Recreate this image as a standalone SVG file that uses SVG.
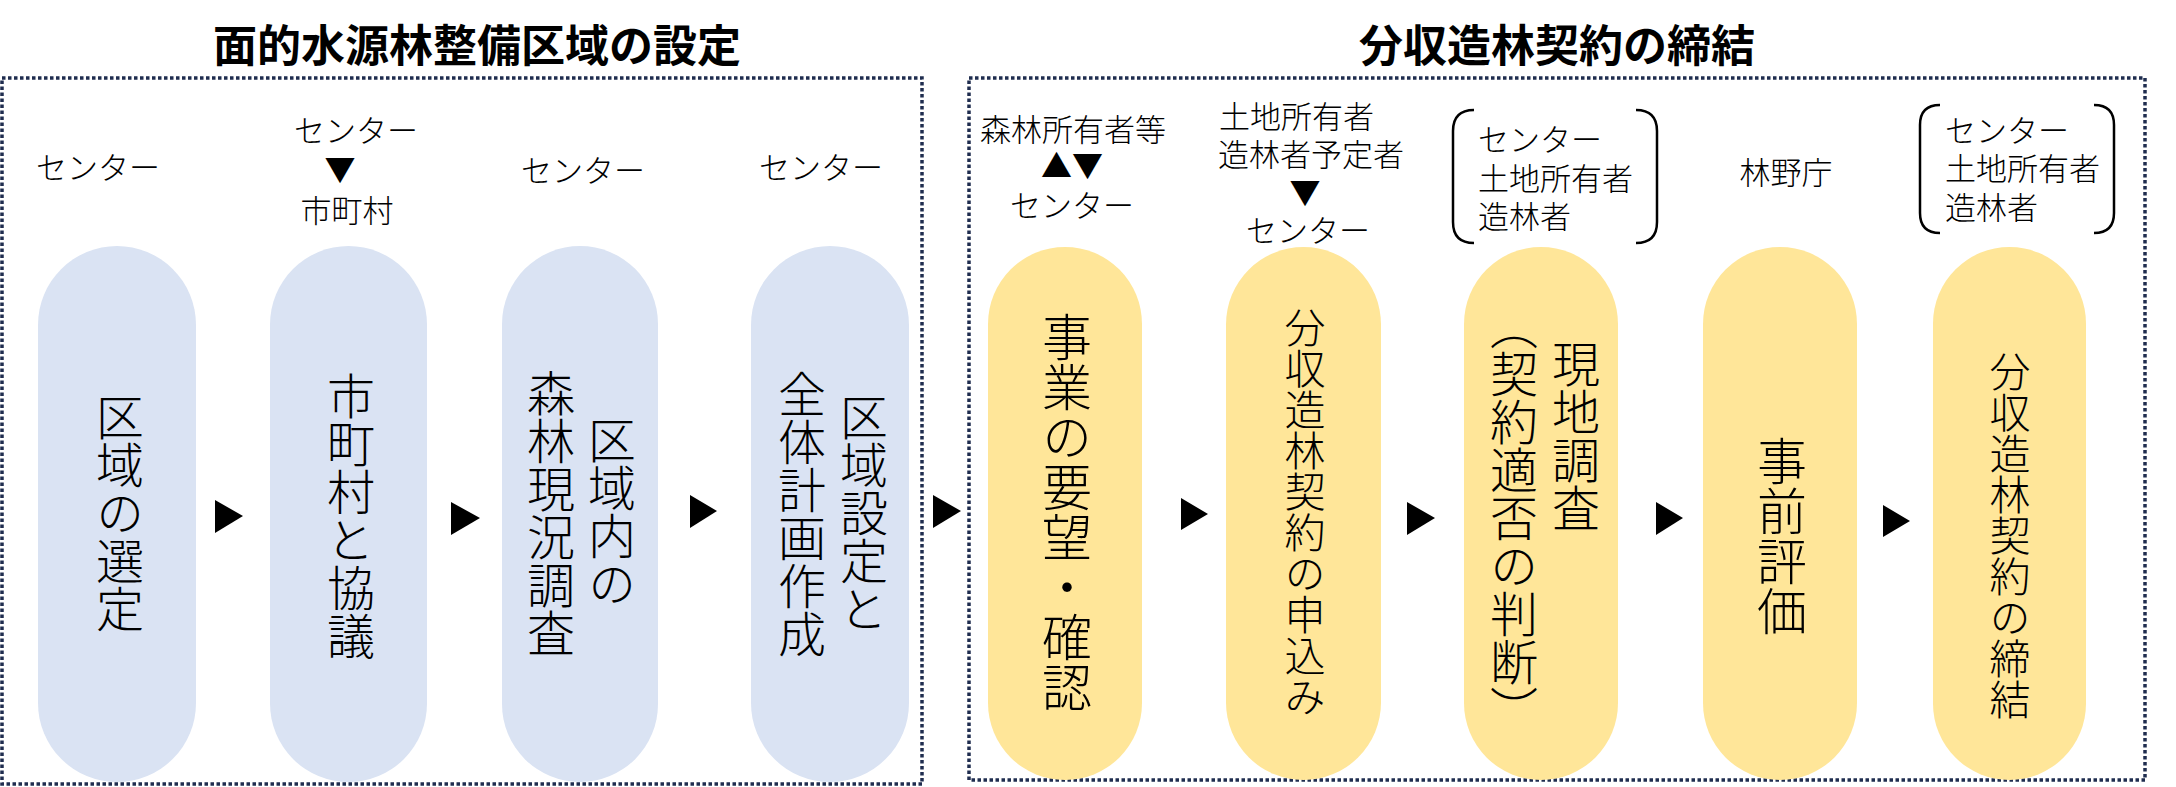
<svg xmlns="http://www.w3.org/2000/svg" width="2176" height="787" viewBox="0 0 2176 787">
<style>
.title{font-family:"Noto Sans CJK JP","Noto Sans CJK SC",sans-serif;font-weight:700;font-size:44px;fill:#000;text-anchor:middle;dominant-baseline:central}
.lbl{font-family:"Noto Sans CJK JP","Noto Sans CJK SC",sans-serif;font-weight:300;font-size:31px;fill:#000;dominant-baseline:central}
.mid{text-anchor:middle}
.vt{font-family:"Noto Sans CJK JP","Noto Sans CJK SC",sans-serif;font-weight:300;fill:#000;writing-mode:vertical-rl;text-anchor:middle}
.frame{fill:none;stroke:#1F2D4F;stroke-width:3.5;stroke-dasharray:3.5 2.5}
.blue{fill:#DAE3F3}
.yel{fill:#FFE699}
.brk{fill:none;stroke:#000;stroke-width:2.5}
.arr{fill:#000}
</style>
<rect width="2176" height="787" fill="#fff"/>
<g id="titles">
<text class="title" x="477" y="43">面的水源林整備区域の設定</text>
<text class="title" x="1557" y="43">分収造林契約の締結</text>
</g>
<g id="frames">
<rect class="frame" x="2" y="78" width="920" height="706"/>
<rect class="frame" x="969" y="78" width="1176" height="702"/>
</g>
<g id="node1">
<text class="lbl mid" x="98" y="165">センター</text>
<rect class="blue" x="38" y="246" width="158" height="536" rx="79"/>
<text class="vt" x="120" y="513" font-size="48">区域の選定</text>
</g>
<g id="node2">
<text class="lbl mid" x="356" y="128">センター</text>
<text class="lbl mid" x="340" y="167">▼</text>
<text class="lbl mid" x="347" y="208">市町村</text>
<rect class="blue" x="270" y="246" width="157" height="536" rx="78.5"/>
<text class="vt" x="351" y="516" font-size="48">市町村と協議</text>
</g>
<g id="node3">
<text class="lbl mid" x="583" y="168">センター</text>
<rect class="blue" x="502" y="246" width="156" height="536" rx="78"/>
<text class="vt" x="612" y="512" font-size="48">区域内の</text>
<text class="vt" x="551" y="513" font-size="48">森林現況調査</text>
</g>
<g id="node4">
<text class="lbl mid" x="821" y="165">センター</text>
<rect class="blue" x="751" y="246" width="158" height="536" rx="79"/>
<text class="vt" x="864" y="513" font-size="48">区域設定と</text>
<text class="vt" x="802" y="514" font-size="48">全体計画作成</text>
</g>
<g id="node5">
<text class="lbl mid" x="1073" y="127">森林所有者等</text>
<text class="lbl mid" x="1072" y="163">▲▼</text>
<text class="lbl mid" x="1072" y="203">センター</text>
<rect class="yel" x="988" y="247" width="154" height="533" rx="77"/>
<text class="vt" x="1067" y="512" font-size="50">事業の要望・確認</text>
</g>
<g id="node6">
<text class="lbl" x="1219" y="114">土地所有者</text>
<text class="lbl" x="1218" y="152">造林者予定者</text>
<text class="lbl mid" x="1305" y="190">▼</text>
<text class="lbl mid" x="1308" y="228">センター</text>
<rect class="yel" x="1226" y="247" width="155" height="533" rx="77.5"/>
<text class="vt" x="1305" y="512" font-size="41">分収造林契約の申込み</text>
</g>
<g id="node7">
<path class="brk" d="M1474,110 Q1453,110 1453,131 L1453,222 Q1453,243 1474,243"/>
<path class="brk" d="M1636,110 Q1657,110 1657,131 L1657,222 Q1657,243 1636,243"/>
<text class="lbl" x="1478" y="137">センター</text>
<text class="lbl" x="1478" y="176">土地所有者</text>
<text class="lbl" x="1478" y="214">造林者</text>
<rect class="yel" x="1464" y="247" width="154" height="533" rx="77"/>
<text class="vt" x="1576" y="436" font-size="48">現地調査</text>
<text class="vt" x="1514" y="518" font-size="48">（契約適否の判断）</text>
</g>
<g id="node8">
<text class="lbl mid" x="1786" y="170">林野庁</text>
<rect class="yel" x="1703" y="247" width="154" height="533" rx="77"/>
<text class="vt" x="1782" y="536" font-size="50">事前評価</text>
</g>
<g id="node9">
<path class="brk" d="M1940,105 Q1920,105 1920,125 L1920,213 Q1920,233 1940,233"/>
<path class="brk" d="M2094,105 Q2114,105 2114,125 L2114,213 Q2114,233 2094,233"/>
<text class="lbl" x="1945" y="128">センター</text>
<text class="lbl" x="1945" y="166">土地所有者</text>
<text class="lbl" x="1945" y="205">造林者</text>
<rect class="yel" x="1933" y="247" width="153" height="533" rx="76.5"/>
<text class="vt" x="2010" y="535" font-size="41">分収造林契約の締結</text>
</g>
<g id="connectors">
<polygon class="arr" points="215,500 243,516 215,533"/>
<polygon class="arr" points="451,502 480,518 451,535"/>
<polygon class="arr" points="690,495 717,511 690,528"/>
<polygon class="arr" points="933,495 961,511 933,528"/>
<polygon class="arr" points="1181,498 1208,514 1181,530"/>
<polygon class="arr" points="1407,502 1435,518 1407,535"/>
<polygon class="arr" points="1656,502 1683,518 1656,535"/>
<polygon class="arr" points="1883,505 1910,521 1883,537"/>
</g>
</svg>
